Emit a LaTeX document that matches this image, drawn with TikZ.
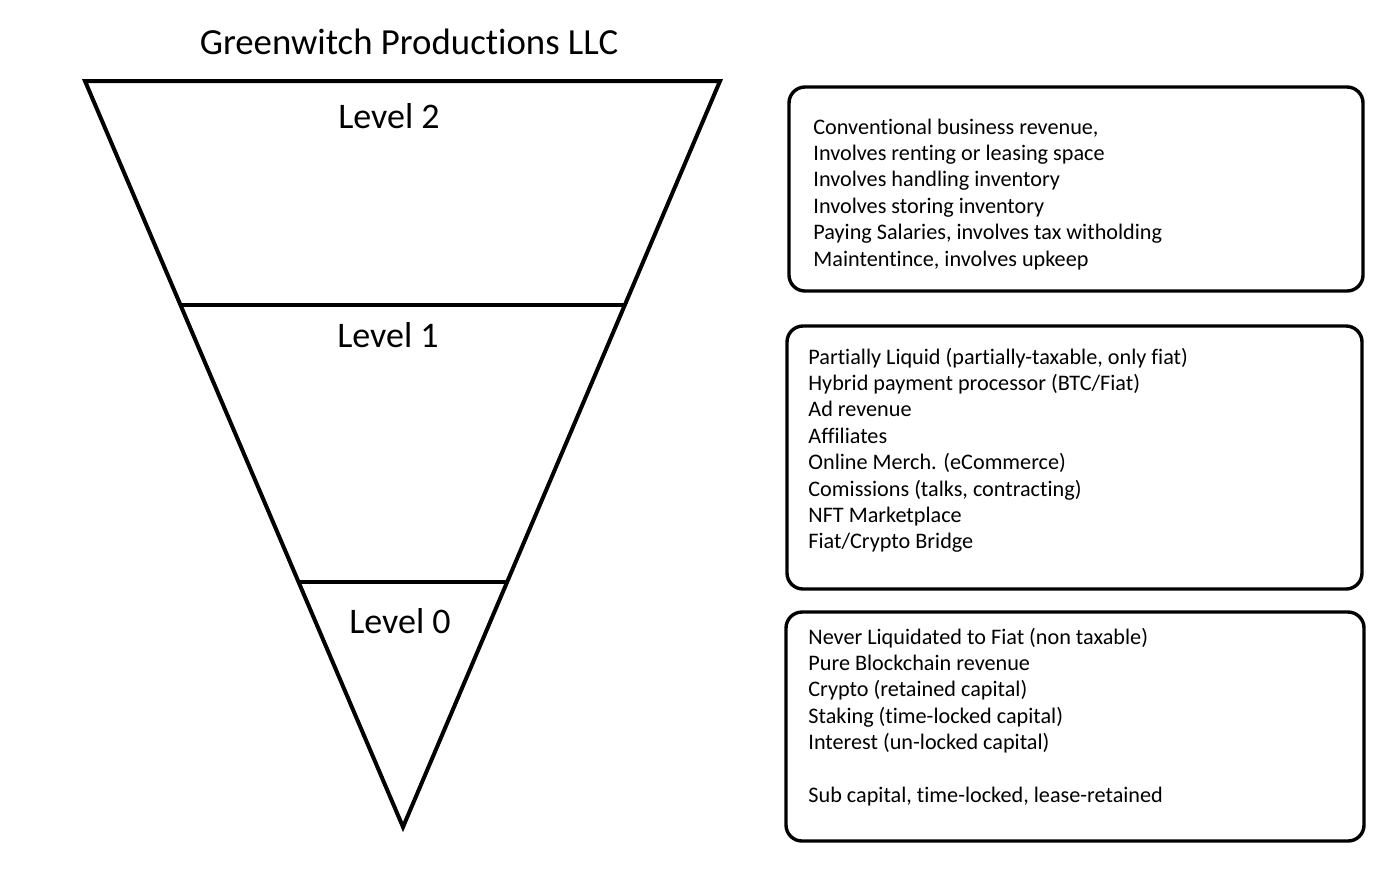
\documentclass[tikz,border=0pt]{standalone}
\usepackage{fontspec}
\setmainfont[Ligatures=NoCommon]{Carlito}
\usetikzlibrary{calc,positioning}
\tikzstyle{funnel}=[line width=2pt,line join=miter]
\tikzstyle{infobox}=[draw,rounded corners=8pt,line width=1.7pt,inner sep=0pt]
\tikzstyle{infotext}=[anchor=base west,inner sep=0pt,font=\fontsize{11.1}{13.2}\selectfont]
\tikzstyle{levellabel}=[inner sep=0pt,font=\fontsize{18}{21}\selectfont]

\begin{document}
\begin{tikzpicture}[x=0.5pt,y=-0.5pt]
\useasboundingbox (0,0) rectangle (1400,875);
\def\linesep{26.4}
    % funnel corners
    \coordinate (T-L) at (85,81);
    \coordinate (T-R) at (720,81);
    \coordinate (apex) at (403,827);
    \coordinate (D2-L) at ($(T-L)!0.3003!(apex)$);
    \coordinate (D2-R) at ($(T-R)!0.3003!(apex)$);
    \coordinate (D1-L) at ($(T-L)!0.6716!(apex)$);
    \coordinate (D1-R) at ($(T-R)!0.6716!(apex)$);

    \draw[funnel] (T-L) -- (T-R) -- (apex) -- cycle;
    \draw[funnel] (D2-L) -- (D2-R);
    \draw[funnel] (D1-L) -- (D1-R);

    \node[levellabel, font=\fontsize{18.4}{21}\selectfont] (title) at (409,42) {Greenwitch Productions LLC};
    \node[levellabel] (L-2) at (389,116) {Level 2};
    \node[levellabel] (L-1) at (388,335) {Level 1};
    \node[levellabel] (L-0) at (400,621) {Level 0};

    % the three boxes on the right
    \foreach \name / \cx / \cy / \w / \h in {2/1076/189/287pt/102pt, 1/1074.5/457.5/287.5pt/131.5pt, 0/1075/726.5/289pt/114.5pt}
        \node[infobox, minimum width=\w, minimum height=\h] (B-\name) at (\cx,\cy) {};

    \foreach \txt [count=\i] in {{Conventional business revenue,}, Involves renting or leasing space,
        Involves handling inventory, Involves storing inventory,
        {Paying Salaries, involves tax witholding}, {Maintentince, involves upkeep}}
        \node[infotext] (T2-\i) at (813,134+\linesep*\i-\linesep) {\txt};

    \foreach \txt [count=\i] in {{Partially Liquid (partially-taxable, only fiat)}, Hybrid payment processor (BTC/Fiat),
        Ad revenue, Affiliates, Online Merch. (eCommerce), {Comissions (talks, contracting)},
        NFT Marketplace, Fiat/Crypto Bridge}
        \node[infotext] (T1-\i) at (808,364+\linesep*\i-\linesep) {\txt};

    \foreach \txt [count=\i] in {Never Liquidated to Fiat (non taxable), Pure Blockchain revenue,
        Crypto (retained capital), Staking (time-locked capital), Interest (un-locked capital)}
        \node[infotext] (T0-\i) at (808,644+\linesep*\i-\linesep) {\txt};
    \node[infotext] (T0-6) at (808,644+\linesep*6) {Sub capital, time-locked, lease-retained};
\end{tikzpicture}
\end{document}
